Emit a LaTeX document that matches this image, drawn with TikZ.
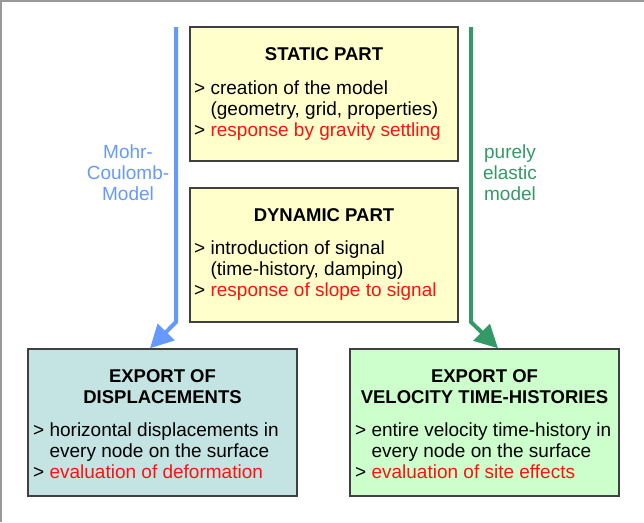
\documentclass[tikz,border=0pt]{standalone}
\usepackage{fontspec}
\setmainfont{Liberation Sans}
\usepackage{tikz}
\usetikzlibrary{positioning, arrows.meta}

\definecolor{staticyellow}{HTML}{FFFFCC}
\definecolor{dispteal}{HTML}{C4E3E3}
\definecolor{velogreen}{HTML}{CCFFCC}
\definecolor{boxedge}{HTML}{404040}
\definecolor{mcblue}{HTML}{6699FF}
\definecolor{elasticgreen}{HTML}{339966}
\definecolor{notered}{HTML}{FF1111}
\definecolor{framegray}{HTML}{999999}

\begin{document}
\begin{tikzpicture}[x=1pt, y=-1pt,
    every node/.style={font=\fontsize{19}{21}\selectfont, inner sep=0pt},
    panel/.style={draw=boxedge, line width=1.5pt, minimum width=268pt, minimum height=134pt},
    lowpanel/.style={panel, minimum width=269pt, minimum height=147pt},
    heading/.style={align=center, font=\fontsize{18.5}{21}\selectfont\bfseries},
    body/.style={align=left, anchor=west},
    flow/.style={line width=4pt, -{Triangle[length=23pt,width=23pt]}}]
    \useasboundingbox (0,0) rectangle (644,522);
    % Frame
    \draw[framegray, line width=1.5pt] (1,522) -- (1,1) -- (644,1);

    % Static part
    \node[panel, fill=staticyellow] (static) at (324,94) {};
    \node[heading] (statictitle) at (324,54) {STATIC PART};
    \node[body] (staticbody) at (194,110.5) {> creation of the model\\\hphantom{> }(geometry, grid, properties)\\> \textcolor{notered}{response by gravity settling}};

    % Dynamic part
    \node[panel, fill=staticyellow] (dynamic) at (324,255) {};
    \node[heading] (dynamictitle) at (324,215) {DYNAMIC PART};
    \node[body] (dynamicbody) at (194,270.5) {> introduction of signal\\\hphantom{> }(time-history, damping)\\> \textcolor{notered}{response of slope to signal}};

    % Exports
    \node[lowpanel, fill=dispteal] (disp) at (162.5,422.5) {};
    \node[heading] (disptitle) at (162.5,386.5) {EXPORT OF\\DISPLACEMENTS};
    \node[body] (dispbody) at (33,451) {> horizontal displacements in\\\hphantom{> }every node on the surface\\> \textcolor{notered}{evaluation of deformation}};

    \node[lowpanel, fill=velogreen] (velo) at (484.5,422.5) {};
    \node[heading] (velotitle) at (484.5,386.5) {EXPORT OF\\VELOCITY TIME-HISTORIES};
    \node[body] (velobody) at (355,451) {> entire velocity time-history in\\\hphantom{> }every node on the surface\\> \textcolor{notered}{evaluation of site effects}};

    % Model paths
    \coordinate (mcstart) at (176,27);
    \coordinate (mcbend) at (176,322);
    \draw[flow, mcblue] (mcstart) -- (mcbend) -- ([xshift=-12.5pt]disp.north);
    \node[mcblue, align=center] (mclabel) at (128,172.5) {Mohr-\\Coulomb-\\Model};

    \coordinate (elstart) at (471,27);
    \coordinate (elbend) at (471,322);
    \draw[flow, elasticgreen] (elstart) -- (elbend) -- ([xshift=13.5pt]velo.north);
    \node[elasticgreen, align=center] (ellabel) at (510,172.5) {purely\\elastic\\model};
\end{tikzpicture}
\end{document}
